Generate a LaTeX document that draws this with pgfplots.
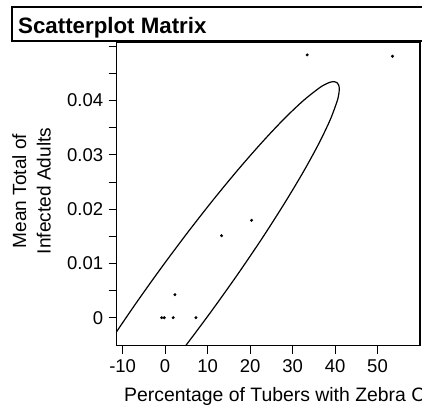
\documentclass[border=0pt]{standalone}
\usepackage{fontspec}
\setmainfont{Liberation Sans}
\usepackage{pgfplots}
\pgfplotsset{compat=1.18}
\newcommand{\lblfont}{\fontsize{18.5bp}{22bp}\selectfont}
\newcommand{\axlblfont}{\fontsize{19.1bp}{23bp}\selectfont}
\begin{document}
\begin{tikzpicture}[font=\lblfont]
\useasboundingbox (0bp,0bp) rectangle (422bp,406bp);
\clip (0bp,0bp) rectangle (422bp,406bp);
\draw[line width=1.2bp] (12bp,365bp) rectangle (440bp,399bp);
\node[anchor=base west, inner sep=0pt, font=\bfseries\fontsize{22.3bp}{26bp}\selectfont] at (18bp,372.7bp) {Scatterplot Matrix};
\node[rotate=90, anchor=base, inner sep=0pt, font=\axlblfont] at (26bp,215bp) {Mean Total of};
\node[rotate=90, anchor=base, inner sep=0pt, font=\axlblfont] at (50.5bp,215bp) {Infected Adults};
\node[anchor=base west, inner sep=0pt, font=\fontsize{19.4bp}{23bp}\selectfont] at (124bp,4.3bp) {Percentage of Tubers with Zebra Chip};
\begin{axis}[
  at={(116.7bp,60.3bp)}, anchor=south west,
  scale only axis, width=303.3bp, height=303.7bp,
  xmin=-11.4, xmax=60, ymin=-0.00516, ymax=0.0508,
  axis line style={line width=1.2bp},
  xtick={-10,0,10,20,30,40,50},
  xticklabels={-10,0,10,20,30,40,50},
  ytick={0,0.01,0.02,0.03,0.04},
  yticklabels={0,0.01,0.02,0.03,0.04},
  minor ytick={0.005,0.015,0.025,0.035,0.045,0.05},
  scaled y ticks=false, scaled x ticks=false,
  tick align=outside, xtick pos=bottom, ytick pos=left,
  major tick length=8bp, minor tick length=8bp,
  tick style={black, line width=1bp},
  tick label style={font=\lblfont},
  xticklabel style={inner sep=0pt, yshift=-5.5bp},
  yticklabel style={inner sep=0pt, xshift=-5.4bp},
]
\addplot[black, line width=1.2bp, smooth] coordinates {
(-1.25,-0.01125) (5.0,-0.00499) (11.25,0.00158) (17.31,0.00825) (23.0,0.01483)
(28.14,0.02113) (32.58,0.02693) (36.18,0.03208) (38.83,0.03641) (40.45,0.03979)
(40.86,0.04109) (41.0,0.04212) (40.86,0.04287) (40.45,0.04333) (39.77,0.0435)
(38.83,0.04338) (37.63,0.04297) (36.18,0.04227) (32.58,0.04003) (28.14,0.03674)
(23.0,0.03248) (17.31,0.02740) (11.25,0.02165) (5.0,0.01539) (-1.25,0.00882)
(-7.31,0.00215) (-13.0,-0.00443) (-18.14,-0.01073)
};
\addplot[only marks, mark=*, mark size=1.3bp, black] coordinates {
(-0.82,0) (-0.21,0) (1.9,0) (7.25,0) (2.3,0.00424) (13.29,0.01511)
(20.35,0.01795) (33.44,0.04842) (53.53,0.04818)
};
\end{axis}
\end{tikzpicture}
\end{document}
